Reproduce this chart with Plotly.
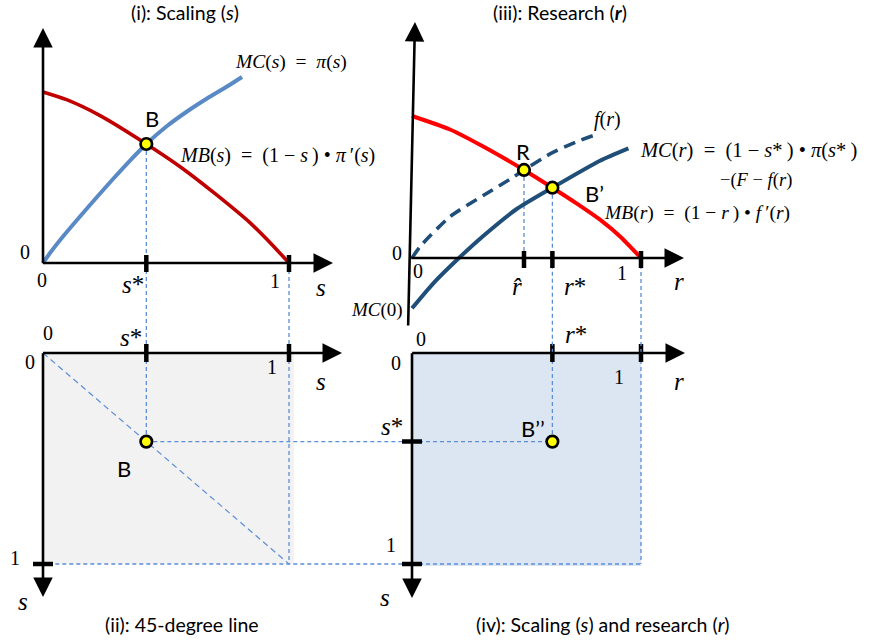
import plotly.graph_objects as go

W, H = 869, 643

# ---------------- values ----------------
# Panel (i): scaling s
MC_S_S = [0, 0.0285, 0.0813, 0.1504, 0.2195, 0.2846, 0.3537, 0.42, 0.5041, 0.5854, 0.6667, 0.748, 0.809]
MC_S_V = [0, 0.0585, 0.155, 0.272, 0.386, 0.491, 0.599, 0.696, 0.801, 0.886, 0.962, 1.032, 1.088]
MB_S_S = [0, 0.096, 0.232, 0.42, 0.57, 0.706, 0.841, 0.936, 1.0]
MB_S_V = [1.0, 0.955, 0.862, 0.696, 0.55, 0.398, 0.236, 0.1, 0.0]

# Panel (iii): research r
MB_R_R = [0, 0.166, 0.311, 0.489, 0.613, 0.72, 0.821, 0.91, 1.0]
MB_R_V = [1.0, 0.905, 0.785, 0.62, 0.495, 0.383, 0.27, 0.15, 0.0]
F_R_R = [0, 0.035, 0.166, 0.311, 0.428, 0.489, 0.603, 0.719, 0.799]
F_R_V = [0, 0.08, 0.291, 0.44, 0.555, 0.62, 0.733, 0.819, 0.866]
MC_R_R = [0, 0.093, 0.205, 0.311, 0.457, 0.613, 0.821, 0.945]
MC_R_V = [-0.354, -0.178, 0.0, 0.155, 0.345, 0.495, 0.685, 0.772]

# Equilibrium points
S_STAR, V_B = 0.42, 0.696      # B
R_HAT, V_R = 0.489, 0.62       # R
R_STAR, V_BP = 0.613, 0.495    # B'

# Tick positions
TICKS_S = [S_STAR, 1.0]
TICKS_R = [R_HAT, R_STAR, 1.0]
TICKS_R_BOTTOM = [R_STAR, 1.0]
TICKS_SDOWN_LEFT_II = [1.0]
TICKS_SDOWN_LEFT_IV = [S_STAR, 1.0]

# ---------------- frame geometry (pixels) ----------------
OX1, OY1 = 43, 263      # origin of panel (i)
OX3, OY3 = 412, 258     # origin of panel (iii)
OYB = 353               # top edge (s = 0) of the lower panels
KX_S, KY1 = 246, 171    # px per unit: s horizontally, value in (i)
KX_R, KY3 = 229, 142    # px per unit: r horizontally, value in (iii)
KY_S = 211              # px per unit: s downward in (ii)/(iv)

S_RANGE = [-0.06, (OX3 - OX1) / KX_S]
V1_RANGE = [-(OYB - OY1) / KY1, (OY1 - 18) / KY1]
SD_RANGE = [-0.07, 1.2]
R_RANGE = [-0.061, (W - OX3) / KX_R]
V3_RANGE = [-(OYB - OY3) / KY3, (OY3 - 15) / KY3]


def dom_x(ox, k, rng):
    return [(ox + rng[0] * k) / W, (ox + rng[1] * k) / W]


def dom_y_up(oy, k, rng):
    return [1 - (oy - rng[0] * k) / H, 1 - (oy - rng[1] * k) / H]


def dom_y_down(oy, k, rng):
    return [1 - (oy + rng[1] * k) / H, 1 - (oy + rng[0] * k) / H]


CONNECT = dict(color="#5b8ed6", width=1.3, dash="4px,3px")
SERIF = "Liberation Serif"
SANS = "Lato"

fig = go.Figure()


def line(x, y, xa, ya, **style):
    fig.add_trace(go.Scatter(x=x, y=y, xaxis=xa, yaxis=ya, mode="lines",
                             line=style, hoverinfo="skip", showlegend=False))


def curve(x, y, xa, ya, **style):
    fig.add_trace(go.Scatter(x=x, y=y, xaxis=xa, yaxis=ya, mode="lines",
                             line=dict(shape="spline", smoothing=0.6, **style),
                             hoverinfo="skip", showlegend=False))


def points(x, y, xa, ya):
    fig.add_trace(go.Scatter(x=x, y=y, xaxis=xa, yaxis=ya, mode="markers",
                             marker=dict(size=11.5, color="#ffff00",
                                         line=dict(color="black", width=2.7)),
                             hoverinfo="skip", showlegend=False, cliponaxis=False))


def ticks_vertical(vals, lo, hi, xa, ya):
    xs, ys = [], []
    for v in vals:
        xs += [v, v, None]
        ys += [lo, hi, None]
    line(xs, ys, xa, ya, color="black", width=4.5)


def ticks_horizontal(vals, lo, hi, xa, ya):
    xs, ys = [], []
    for v in vals:
        xs += [lo, hi, None]
        ys += [v, v, None]
    line(xs, ys, xa, ya, color="black", width=4.5)


# ---------------- panel fills ----------------
fig.add_shape(type="rect", xref="x", yref="y2", x0=0, x1=1.02, y0=0, y1=1.0,
              fillcolor="#f2f2f2", line_width=0, layer="below")
fig.add_shape(type="rect", xref="x2", yref="y2", x0=0, x1=1.0, y0=0, y1=1.01,
              fillcolor="#dce6f2", line_width=0, layer="below")

# ---------------- dashed guide lines ----------------
# (i) -> (ii) verticals
line([S_STAR, S_STAR], [V_B, V1_RANGE[0]], "x", "y", **CONNECT)
line([1.0, 1.0], [0, V1_RANGE[0]], "x", "y", **CONNECT)
line([S_STAR, S_STAR], [0, S_STAR], "x", "y2", **CONNECT)
line([1.0, 1.0], [0, 1.0], "x", "y2", **CONNECT)
# 45-degree line
line([0, 1.0], [0, 1.0], "x", "y2", color="#5b8ed6", width=1.2, dash="6px,4px")
# (ii) -> (iv) horizontals
line([S_STAR, S_RANGE[1]], [S_STAR, S_STAR], "x", "y2", **CONNECT)
line([0.05, S_RANGE[1]], [1.0, 1.0], "x", "y2", **CONNECT)
line([0, R_STAR], [S_STAR, S_STAR], "x2", "y2", **CONNECT)
line([0, 1.0], [1.0, 1.0], "x2", "y2", **CONNECT)
# (iii) -> (iv) verticals
line([R_HAT, R_HAT], [V_R, 0], "x2", "y3", **CONNECT)
line([R_STAR, R_STAR], [V_BP, V3_RANGE[0]], "x2", "y3", **CONNECT)
line([1.0, 1.0], [0, V3_RANGE[0]], "x2", "y3", **CONNECT)
line([R_STAR, R_STAR], [0, S_STAR], "x2", "y2", **CONNECT)
line([1.0, 1.0], [0, 1.0], "x2", "y2", **CONNECT)

# ---------------- curves ----------------
curve(MB_S_S, MB_S_V, "x", "y", color="#c00000", width=3.6)
curve(MC_S_S, MC_S_V, "x", "y", color="#5a8ac6", width=4)
curve(MB_R_R, MB_R_V, "x2", "y3", color="#ff0000", width=4)
curve(F_R_R, F_R_V, "x2", "y3", color="#1f4e79", width=3.6, dash="12px,7px")
curve(MC_R_R, MC_R_V, "x2", "y3", color="#1f4e79", width=4)

# ---------------- ticks ----------------
ticks_vertical(TICKS_S, -9 / KY1, 8 / KY1, "x", "y")
ticks_vertical(TICKS_S, -9 / KY_S, 9 / KY_S, "x", "y2")
ticks_horizontal(TICKS_SDOWN_LEFT_II, -10 / KX_S, 10 / KX_S, "x", "y2")
ticks_vertical(TICKS_R, -10 / KY3, 7 / KY3, "x2", "y3")
ticks_vertical(TICKS_R_BOTTOM, -9 / KY_S, 9 / KY_S, "x2", "y2")
ticks_horizontal(TICKS_SDOWN_LEFT_IV, -10 / KX_R, 10 / KX_R, "x2", "y2")

# ---------------- equilibrium points ----------------
points([S_STAR], [V_B], "x", "y")
points([S_STAR], [S_STAR], "x", "y2")
points([R_HAT, R_STAR], [V_R, V_BP], "x2", "y3")
points([R_STAR], [S_STAR], "x2", "y2")

# ---------------- axes with arrowheads ----------------
annotations = []


def arrow(xref, yref, x0, y0, x1, y1):
    annotations.append(dict(x=x1, y=y1, ax=x0, ay=y0, xref=xref, yref=yref,
                            axref=xref, ayref=yref, text="", showarrow=True,
                            arrowhead=2, arrowsize=1.5, arrowwidth=2.6,
                            arrowcolor="black", standoff=0, startstandoff=0))


arrow("x", "y", 0, -0.01, 0, (OY1 - 28) / KY1)
arrow("x", "y", -0.006, 0, (333 - OX1) / KX_S, 0)
arrow("x", "y2", -0.006, 0, (342 - OX1) / KX_S, 0)
arrow("x", "y2", 0, -0.006, 0, (597 - OYB) / KY_S)
arrow("x2", "y3", -0.017, -(327 - OY3) / KY3, 0.013, (OY3 - 22) / KY3)
arrow("x2", "y3", -0.01, 0, (684 - OX3) / KX_R, 0)
arrow("x2", "y2", -0.006, 0, (685 - OX3) / KX_R, 0)
arrow("x2", "y2", 0, -0.006, 0, (598 - OYB) / KY_S)


def label(text, x, y, size=19, family=SERIF, xanchor="center", yanchor="middle"):
    annotations.append(dict(text=text, x=x / W, y=1 - y / H, xref="paper", yref="paper",
                            xanchor=xanchor, yanchor=yanchor, showarrow=False,
                            font=dict(family=family, size=size, color="black")))


SP = "\u2009"  # thin space used inside the formulas

# titles
label("(i): Scaling (<i>s</i>)", 185, 13, 19.5, SANS)
label("(iii): Research (<b><i>r</i></b>)", 560, 13, 19.5, SANS)
label("(ii): 45-degree line", 182, 624, 19.5, SANS)
label("(iv): Scaling (<i>s</i>) and research (<i>r</i>)", 603, 624, 19.5, SANS)

# panel (i)
label("<i>MC</i>(<i>s</i>)  =  <i>π</i>(<i>s</i>)", 233, 62, 19.5, xanchor="left")
label(f"<i>MB</i>(<i>s</i>)  =  (1 − <i>s</i>{SP}) • <i>π</i>{SP}′(<i>s</i>)", 178, 155, 20, xanchor="left")
label("B", 152, 118, 22, SANS)
label("0", 25, 252, 20)
label("0", 42, 280, 20)
label("<i>s</i>*", 133, 284, 25)
label("1", 275, 281, 20)
label("<i>s</i>", 321, 287, 25)

# panel (ii)
label("0", 48, 333, 20)
label("0", 30, 362, 20)
label("<i>s</i>*", 131, 337, 25)
label("1", 272, 367, 20)
label("<i>s</i>", 321, 381, 25)
label("B", 124, 468, 22, SANS)
label("1", 15, 558, 20)
label("<i>s</i>", 23, 601, 25)

# panel (iii)
label("<i>f</i>(<i>r</i>)", 607, 120, 20)
label(f"<i>MC</i>(<i>r</i>)  =  (1 − <i>s</i>*{SP}) • <i>π</i>(<i>s</i>*{SP})", 638, 150, 20.5, xanchor="left")
label("−(<i>F</i> − <i>f</i>(<i>r</i>)", 718, 180, 18.5, xanchor="left")
label(f"<i>MB</i>(<i>r</i>)  =  (1 − <i>r</i>{SP}) • <i>f</i>{SP}′(<i>r</i>)", 602, 213, 19.5, xanchor="left")
label("R", 523, 152, 22, SANS)
label("B’", 594, 193, 22, SANS)
label("0", 397, 253, 20)
label("0", 418, 271, 20)
label("<i>r̂</i>", 517, 286, 25)
label("<i>r</i>*", 575, 286, 25)
label("1", 622, 273, 20)
label("<i>r</i>", 679, 281, 25)
label("<i>MC</i>(0)", 405, 310, 19, xanchor="right")

# panel (iv)
label("0", 421, 339, 20)
label("0", 396, 363, 20)
label("<i>r</i>*", 576, 334, 25)
label("1", 619, 377, 20)
label("<i>r</i>", 679, 381, 25)
label("<i>s</i>*", 392, 427, 25)
label("1", 391, 545, 20)
label("<i>s</i>", 385, 597, 25)
label("B’’", 533, 428, 22, SANS)

hidden = dict(visible=False, fixedrange=True)
fig.update_layout(
    width=W, height=H,
    margin=dict(l=0, r=0, t=0, b=0),
    paper_bgcolor="white", plot_bgcolor="rgba(0,0,0,0)",
    showlegend=False,
    xaxis=dict(domain=dom_x(OX1, KX_S, S_RANGE), range=S_RANGE, anchor="y", **hidden),
    yaxis=dict(domain=dom_y_up(OY1, KY1, V1_RANGE), range=V1_RANGE, anchor="x", **hidden),
    yaxis2=dict(domain=dom_y_down(OYB, KY_S, SD_RANGE), range=SD_RANGE[::-1], anchor="x", **hidden),
    xaxis2=dict(domain=dom_x(OX3, KX_R, R_RANGE), range=R_RANGE, anchor="y3", **hidden),
    yaxis3=dict(domain=dom_y_up(OY3, KY3, V3_RANGE), range=V3_RANGE, anchor="x2", **hidden),
    annotations=annotations,
)

fig.write_html("out.html")
